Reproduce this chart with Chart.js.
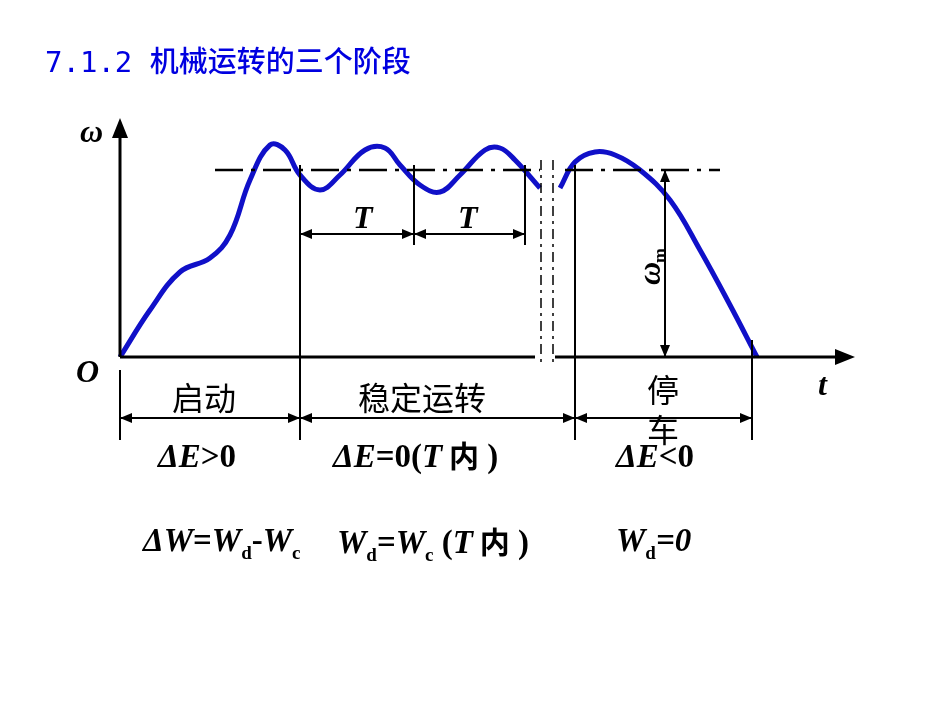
<!DOCTYPE html>
<html><head><meta charset="utf-8">
<script src="https://cdn.jsdelivr.net/npm/chart.js@4"></script>
<style>body{margin:0;background:#fff}</style>
</head><body>
<canvas id="c" width="950" height="713"></canvas>
<script>
// curve in t / omega units, origin at the axes corner
const startT = [0, 30, 60, 90, 110, 130, 150, 165, 180, 200, 220, 245, 265, 280, 300, 320, 340, 365, 380, 395, 420];
const startW = [0, 47, 85, 99, 122, 177, 212, 207, 182, 167, 182, 207, 209, 192, 172, 165, 182, 207, 209, 197, 169];
const stopT = [440, 455, 475, 495, 520, 550, 580, 610, 637];
const stopW = [169, 195, 205, 202, 187, 157, 107, 52, 0];
const meanW = 187;

const pts = (xs, ys) => xs.map((x, i) => ({x: x, y: ys[i]}));

const deco = {
  id: 'deco',
  afterDraw(chart) {
    const c = chart.ctx, sx = chart.scales.x, sy = chart.scales.y;
    const X = v => sx.getPixelForValue(v), Y = v => sy.getPixelForValue(v);
    const ox = X(0), oy = Y(0);
    c.save();
    c.strokeStyle = '#000'; c.fillStyle = '#000'; c.lineWidth = 3;
    const line = (a, b, d, e) => { c.beginPath(); c.moveTo(a, b); c.lineTo(d, e); c.stroke(); };
    const head = (x, y, dir) => {
      c.beginPath();
      if (dir === 'u') { c.moveTo(x, y); c.lineTo(x - 8, y + 20); c.lineTo(x + 8, y + 20); }
      if (dir === 'r') { c.moveTo(x, y); c.lineTo(x - 20, y - 8); c.lineTo(x - 20, y + 8); }
      c.closePath(); c.fill();
    };
    const small = (x, y, dir) => {
      c.beginPath();
      if (dir === 'l') { c.moveTo(x, y); c.lineTo(x + 12, y - 5); c.lineTo(x + 12, y + 5); }
      if (dir === 'r') { c.moveTo(x, y); c.lineTo(x - 12, y - 5); c.lineTo(x - 12, y + 5); }
      if (dir === 'u') { c.moveTo(x, y); c.lineTo(x - 5, y + 12); c.lineTo(x + 5, y + 12); }
      if (dir === 'd') { c.moveTo(x, y); c.lineTo(x - 5, y - 12); c.lineTo(x + 5, y - 12); }
      c.closePath(); c.fill();
    };
    const dim = (a, b, y) => { c.lineWidth = 2; line(a, y, b, y); small(a, y, 'l'); small(b, y, 'r'); };
    // axes
    line(ox, oy, ox, 135); head(ox, 118, 'u');
    line(ox, oy, 535, oy); line(555, oy, 835, oy); head(855, oy, 'r');
    // mean speed dash-dot
    c.lineWidth = 2.5; c.setLineDash([28, 8, 4, 8]);
    line(215, Y(meanW), 540, Y(meanW)); line(565, Y(meanW), 720, Y(meanW));
    // break lines
    c.lineWidth = 1.5; c.setLineDash([10, 5, 3, 5]);
    line(541, 160, 541, 365); line(553, 160, 553, 365);
    c.setLineDash([]);
    // period verticals
    c.lineWidth = 2;
    [300, 414, 525].forEach(x => line(x, Y(meanW) - 5, x, 245));
    line(300, 245, 300, 440); line(575, 165, 575, 440); line(752, 340, 752, 440);
    line(ox, 370, ox, 440);
    dim(300, 414, 234); dim(414, 525, 234);
    dim(ox, 300, 418); dim(300, 575, 418); dim(575, 752, 418);
    // omega_m
    line(665, Y(meanW), 665, oy); small(665, Y(meanW), 'u'); small(665, oy, 'd');
    // texts
    c.textBaseline = 'alphabetic';
    c.font = 'bold italic 32px "Liberation Serif"';
    c.fillText('ω', 80, 142); c.fillText('O', 76, 382); c.fillText('t', 818, 395);
    c.fillText('T', 353, 228); c.fillText('T', 458, 228);
    c.save(); c.translate(660, 285); c.rotate(-Math.PI / 2);
    c.fillText('ω', 0, 0); c.font = 'bold 18px "Liberation Serif"'; c.fillText('m', 22, 6);
    c.restore();
    c.font = '32px "Noto Sans CJK SC"';
    c.fillText('启动', 172, 410); c.fillText('稳定运转', 358, 410);
    c.fillText('停', 647, 402); c.fillText('车', 647, 442);
    const rich = (x, y, parts) => {
      parts.forEach(p => {
        c.font = p[1];
        c.fillText(p[0], x, y + (p[2] || 0));
        x += c.measureText(p[0]).width;
      });
    };
    const BI = 'bold italic 33px "Liberation Serif"', B = 'bold 33px "Liberation Serif"',
      S = 'bold 19px "Liberation Serif"', CJK = 'bold 30px "Noto Sans CJK SC"';
    rich(158, 467, [['ΔE', BI], ['>0', B]]);
    rich(333, 467, [['ΔE', BI], ['=0(', B], ['T', BI], [' 内', CJK], [' )', B]]);
    rich(616, 467, [['ΔE', BI], ['<0', B]]);
    rich(143, 551, [['ΔW', BI], ['=', B], ['W', BI], ['d', S, 8], ['-', B], ['W', BI], ['c', S, 8]]);
    rich(337, 553, [['W', BI], ['d', S, 8], ['=', B], ['W', BI], ['c', S, 8], [' (', B], ['T', BI], [' 内', CJK], [' )', B]]);
    rich(616, 551, [['W', BI], ['d', S, 8], ['=0', BI]]);
    c.fillStyle = '#0000e0';
    rich(45, 72, [['7.1.2 ', '29px "DejaVu Sans Mono"'], ['机械运转的三个阶段', '500 29px "Noto Sans CJK SC"']]);
    c.restore();
  }
};

new Chart(document.getElementById('c'), {
  type: 'line',
  data: {
    datasets: [
      {data: pts(startT, startW), borderColor: '#1010c8', borderWidth: 5, pointRadius: 0, tension: 0.4},
      {data: pts(stopT, stopW), borderColor: '#1010c8', borderWidth: 5, pointRadius: 0, tension: 0.4}
    ]
  },
  options: {
    responsive: false, animation: false, devicePixelRatio: 1,
    layout: {padding: 0},
    plugins: {legend: {display: false}, tooltip: {enabled: false}},
    scales: {
      x: {type: 'linear', display: false, min: -120, max: 830},
      y: {type: 'linear', display: false, min: -356, max: 357}
    }
  },
  plugins: [deco]
});
</script>
</body></html>
